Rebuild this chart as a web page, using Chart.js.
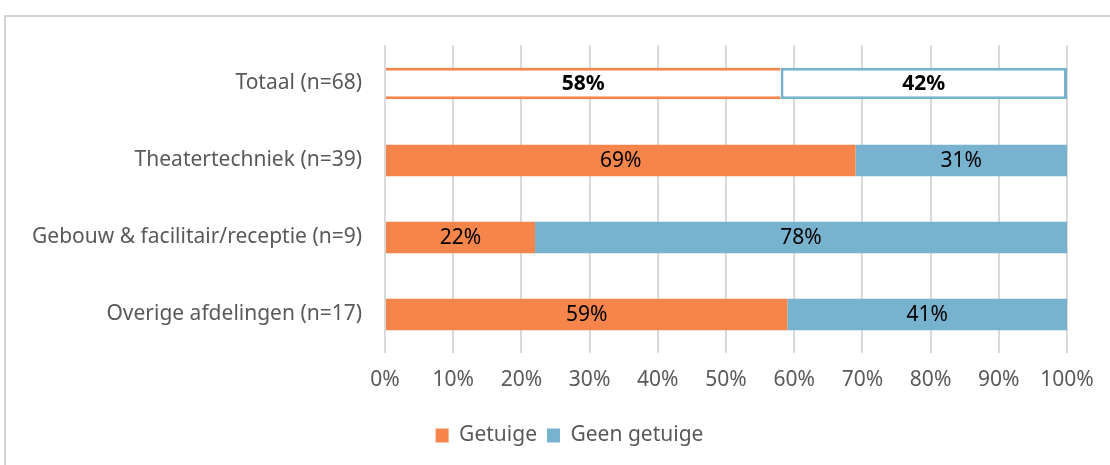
<!DOCTYPE html>
<html>
<head>
<meta charset="utf-8">
<script src="https://cdn.jsdelivr.net/npm/chart.js@4"></script>
<style>
html,body{margin:0;padding:0;background:#fff;overflow:hidden;}
#wrap{position:relative;width:1110px;height:465px;}
#frame{position:absolute;left:4px;top:15px;width:1200px;height:600px;border:2px solid #d4d4d4;box-sizing:border-box;}
canvas{position:absolute;left:0;top:0;}
</style>
</head>
<body>
<div id="wrap">
<div id="frame"></div>
<canvas id="c" width="1110" height="465"></canvas>
</div>
<script>
const categories = ["Totaal (n=68)", "Theatertechniek (n=39)", "Gebouw & facilitair/receptie (n=9)", "Overige afdelingen (n=17)"];
const getuige = [58, 69, 22, 59];
const geenGetuige = [42, 31, 78, 41];
const seriesNames = ["Getuige", "Geen getuige"];
const tickValues = [0,10,20,30,40,50,60,70,80,90,100];

const ORANGE = "#F5854A";
const BLUE = "#77B2CF";
const FONT = "'Noto Sans', 'Liberation Sans', Arial, sans-serif";

const labelPlugin = {
  id: "segLabels",
  afterDatasetsDraw(chart) {
    const ctx = chart.ctx;
    ctx.save();
    ctx.textAlign = "center";
    ctx.textBaseline = "middle";
    chart.data.datasets.forEach((ds, di) => {
      const meta = chart.getDatasetMeta(di);
      meta.data.forEach((el, i) => {
        const p = el.getCenterPoint();
        ctx.font = (i === 0 ? "bold " : "") + "21px " + FONT;
        ctx.fillStyle = "#000";
        ctx.fillText(ds.data[i] + "%", p.x, p.y + 1);
      });
    });
    ctx.restore();
  }
};

const legendShift = {
  id: "legendShift",
  afterLayout(chart) {
    if (chart.legend) {
      chart.legend.left += 36;
      chart.legend.right += 36;
    }
  }
};

new Chart(document.getElementById("c"), {
  type: "bar",
  data: {
    labels: categories,
    datasets: [
      {
        label: seriesNames[0],
        data: getuige,
        backgroundColor: getuige.map((v, i) => i === 0 ? "#ffffff" : ORANGE),
        borderColor: ORANGE,
        borderWidth: getuige.map((v, i) => i === 0 ? {top: 3, bottom: 3, left: 0, right: 0} : 0),
        borderSkipped: false,
        barPercentage: 0.41,
        categoryPercentage: 1
      },
      {
        label: seriesNames[1],
        data: geenGetuige,
        backgroundColor: geenGetuige.map((v, i) => i === 0 ? "#ffffff" : BLUE),
        borderColor: BLUE,
        borderWidth: geenGetuige.map((v, i) => i === 0 ? 3 : 0),
        borderSkipped: false,
        barPercentage: 0.41,
        categoryPercentage: 1
      }
    ]
  },
  options: {
    indexAxis: "y",
    responsive: false,
    animation: false,
    layout: {padding: {left: 0, top: 45, right: 43, bottom: 9}},
    scales: {
      x: {
        stacked: true,
        min: 0, max: 100,
        afterBuildTicks(scale) { scale.ticks = tickValues.map(v => ({value: v})); },
        afterFit(scale) { scale.height = 62; },
        grid: {color: "#d9d9d9", lineWidth: 2, drawTicks: false},
        border: {display: false},
        ticks: {
          padding: 14,
          color: "#595959",
          font: {family: FONT, size: 21},
          callback: v => v + "%"
        }
      },
      y: {
        stacked: true,
        afterFit(scale) { scale.width = 385; },
        grid: {display: false, drawTicks: false},
        border: {display: false},
        ticks: {
          padding: 23,
          color: "#595959",
          font: {family: FONT, size: 21}
        }
      }
    },
    plugins: {
      legend: {
        position: "bottom",
        labels: {
          boxWidth: 13,
          boxHeight: 14,
          padding: 10,
          color: "#595959",
          font: {family: FONT, size: 21},
          generateLabels(chart) {
            return chart.data.datasets.map((ds, i) => ({
              text: ds.label,
              fillStyle: i === 0 ? ORANGE : BLUE,
              strokeStyle: i === 0 ? ORANGE : BLUE,
              lineWidth: 0,
              fontColor: "#595959",
              datasetIndex: i,
              hidden: false
            }));
          }
        }
      },
      tooltip: {enabled: false}
    }
  },
  plugins: [labelPlugin, legendShift]
});
</script>
</body>
</html>
